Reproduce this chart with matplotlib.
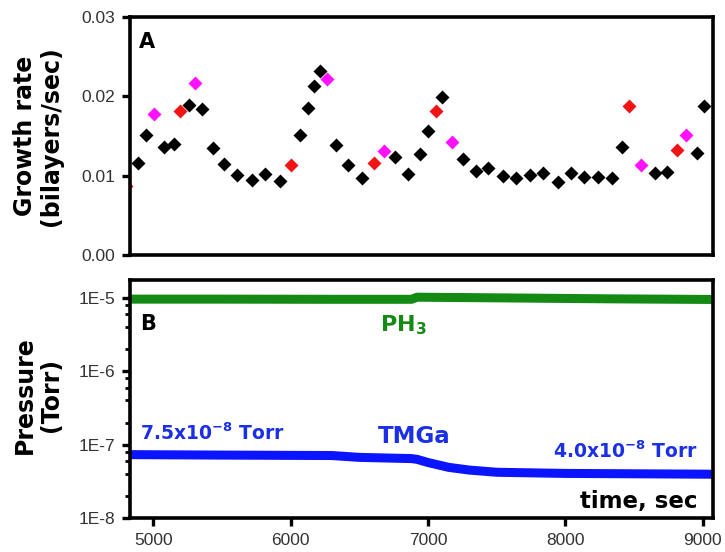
import matplotlib
matplotlib.use("Agg")
import matplotlib.pyplot as plt
from matplotlib.ticker import FixedLocator, LogLocator, NullFormatter, FixedFormatter

plt.rcParams["mathtext.fontset"] = "dejavusans"

# ---- Data: growth rate (panel A) ----
black_t = [4886, 4947, 5075, 5153, 5257, 5356, 5431, 5514, 5608, 5718, 5815, 5919,
           6069, 6127, 6173, 6215, 6331, 6420, 6522, 6760, 6857, 6940, 7002, 7104,
           7257, 7351, 7439, 7543, 7640, 7742, 7834, 7943, 8038, 8137, 8239, 8340,
           8411, 8651, 8740, 8961, 9007]
black_v = [0.01156, 0.01513, 0.01362, 0.0140, 0.01888, 0.01845, 0.01345, 0.01144,
           0.01005, 0.00942, 0.01017, 0.00937, 0.01513, 0.0185, 0.02127, 0.02324,
           0.01383, 0.01131, 0.00975, 0.01232, 0.01025, 0.01274, 0.0156, 0.01996,
           0.01214, 0.01059, 0.01093, 0.00996, 0.00967, 0.01009, 0.01038, 0.0092,
           0.01034, 0.00984, 0.00984, 0.00967, 0.01366, 0.01038, 0.01043, 0.0129,
           0.01883]
red_t = [4800, 5196, 6001, 6607, 7056, 8464, 8816]
red_v = [0.0087, 0.01812, 0.01139, 0.01156, 0.01816, 0.01883, 0.01324]
magenta_t = [5007, 5301, 6263, 6680, 7175, 8551, 8881]
magenta_v = [0.01782, 0.02173, 0.0222, 0.01315, 0.01425, 0.01139, 0.01513]

# ---- Data: pressures (panel B) ----
ph3_t = [4830, 5500, 6300, 6880, 6920, 7500, 8300, 9075]
ph3_p = [9.6e-6, 9.6e-6, 9.55e-6, 9.55e-6, 1.02e-5, 1.0e-5, 9.7e-6, 9.5e-6]
tmga_t = [4830, 5500, 6300, 6500, 6880, 6920, 7000, 7150, 7300, 7500, 8000, 9075]
tmga_p = [7.3e-8, 7.2e-8, 7.1e-8, 6.7e-8, 6.45e-8, 6.3e-8, 5.7e-8, 4.9e-8, 4.5e-8,
          4.2e-8, 4.05e-8, 3.95e-8]

x_ticks = [5000, 6000, 7000, 8000, 9000]
gr_ticks = [0.00, 0.01, 0.02, 0.03]
gr_labels = ["0.00", "0.01", "0.02", "0.03"]
p_ticks = [1e-8, 1e-7, 1e-6, 1e-5]
p_labels = ["1E-8", "1E-7", "1E-6", "1E-5"]

BOLD = "DejaVu Sans"
TICKF = "Liberation Sans"
green = "#148a14"
blue = "#1a2fe6"
lineblue = "#0a14ff"

fig = plt.figure(figsize=(7.25, 5.52), dpi=100)
W, H = 725, 552
def rect(l, t, r, b):
    return [l / W, 1 - b / H, (r - l) / W, (b - t) / H]

axA = fig.add_axes(rect(130, 17, 713, 255))
axB = fig.add_axes(rect(130, 280, 713, 518))

xlim = (4830, 9075)

# Panel A
ms = 7.5
axA.plot(black_t, black_v, "D", color="black", ms=ms, mec="none")
axA.plot(red_t, red_v, "D", color="#f01414", ms=ms, mec="none")
axA.plot(magenta_t, magenta_v, "D", color="#ff10ff", ms=ms, mec="none")
axA.set_xlim(*xlim)
axA.set_ylim(0, 0.03)
axA.yaxis.set_major_locator(FixedLocator(gr_ticks))
axA.yaxis.set_major_formatter(FixedFormatter(gr_labels))
axA.set_xticks([])
axA.text(0.015, 0.893, "A", transform=axA.transAxes, fontsize=15, fontweight="bold",
         family=BOLD, ha="left", va="center")

# Panel B
axB.plot(ph3_t, ph3_p, "-", color=green, lw=6.5, solid_capstyle="butt")
axB.plot(tmga_t, tmga_p, "-", color=lineblue, lw=6.5, solid_capstyle="butt")
axB.set_yscale("log")
axB.set_xlim(*xlim)
axB.set_ylim(1e-8, 1.75e-5)
axB.yaxis.set_major_locator(FixedLocator(p_ticks))
axB.yaxis.set_major_formatter(FixedFormatter(p_labels))
axB.yaxis.set_minor_locator(LogLocator(base=10, subs=[2, 4, 6, 8]))
axB.yaxis.set_minor_formatter(NullFormatter())
axB.set_xticks(x_ticks)
axB.set_xticklabels([str(v) for v in x_ticks])

axB.text(0.017, 0.817, "B", transform=axB.transAxes, fontsize=15, fontweight="bold",
         family=BOLD, ha="left", va="center")
axB.text(0.428, 0.786, "PH$_\\mathbf{3}$", transform=axB.transAxes, fontsize=16,
         fontweight="bold", family=BOLD, color=green, ha="left", va="baseline")
axB.text(0.017, 0.328, "7.5x10$^\\mathbf{-8}$ Torr", transform=axB.transAxes, fontsize=13.5,
         fontweight="bold", family=BOLD, color=blue, ha="left", va="baseline")
axB.text(0.425, 0.315, "TMGa", transform=axB.transAxes, fontsize=16.5,
         fontweight="bold", family=BOLD, color=blue, ha="left", va="baseline")
axB.text(0.974, 0.251, "4.0x10$^\\mathbf{-8}$ Torr", transform=axB.transAxes, fontsize=13.5,
         fontweight="bold", family=BOLD, color=blue, ha="right", va="baseline")
axB.text(0.974, 0.041, "time, sec", transform=axB.transAxes, fontsize=16.5,
         fontweight="bold", family=BOLD, color="black", ha="right", va="baseline")

for ax in (axA, axB):
    for s in ax.spines.values():
        s.set_linewidth(2.6)
        s.set_color("black")
    ax.tick_params(axis="both", which="major", direction="out", length=6, width=2.4,
                   labelsize=12.5, pad=4.5)
    ax.tick_params(axis="y", which="minor", direction="out", length=3.5, width=2)
    for lab in ax.get_xticklabels() + ax.get_yticklabels():
        lab.set_family(TICKF)
        lab.set_color("#333333")

fig.text(38 / W, 1 - 136 / H, "Growth rate\n(bilayers/sec)", rotation=90, ha="center",
         va="center", multialignment="center", fontsize=17, fontweight="bold", family=BOLD,
         linespacing=1.15)
fig.text(38 / W, 1 - 395 / H, "Pressure\n(Torr)", rotation=90, ha="center",
         va="center", multialignment="center", fontsize=17, fontweight="bold", family=BOLD,
         linespacing=1.15)

fig.savefig("out.png", dpi=100)
